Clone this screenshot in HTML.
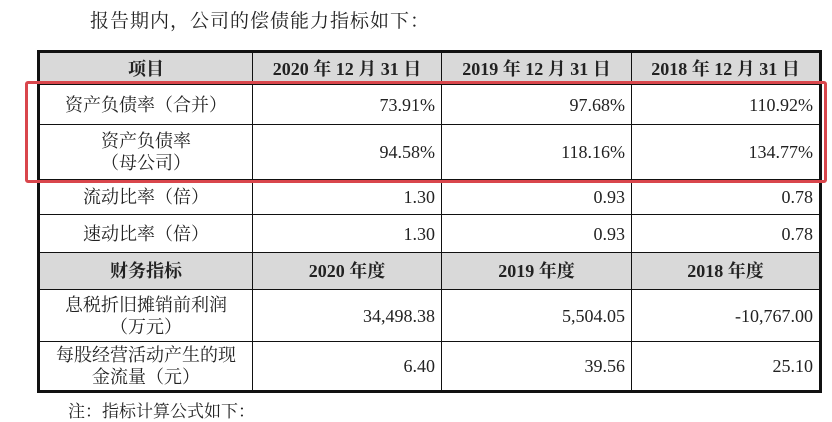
<!DOCTYPE html>
<html><head><meta charset="utf-8">
<style>
body{margin:0;width:832px;height:407px;background:#fff;overflow:hidden;position:relative;font-family:"Liberation Serif","Noto Serif CJK SC","Noto Sans CJK SC",serif;color:#222}
.t{position:absolute;font-size:19px;left:90px;top:6px;letter-spacing:1px}
.tbl{position:absolute;left:37px;top:50px;width:785px;height:343px;border:3px solid #111;box-sizing:border-box}
.c{position:absolute;box-sizing:border-box;border-right:1px solid #111;border-bottom:1px solid #111;display:flex;align-items:center;font-size:18px;line-height:22px}
.h{background:#d9d9d9;font-weight:bold;justify-content:center}
.l{justify-content:center;text-align:center}
.r{justify-content:flex-end;padding-right:6px}
.red{position:absolute;left:25px;top:81px;width:802px;height:102px;border:3px solid #d9464c;border-radius:3px;box-sizing:border-box}
.n{position:absolute;left:68px;top:397px;font-size:17px}
</style></head><body>
<div class="t">报告期内，公司的偿债能力指标如下：</div>
<div class="tbl"></div>
<div id="cells"></div>
<div class="red"></div>
<div class="n">注：指标计算公式如下：</div>
<script>
const xs=[37,253,442,632,822];
const ys=[50,85,125,180,215,253,290,342,393];
const rows=[
 ["h","项目","2020 年 12 月 31 日","2019 年 12 月 31 日","2018 年 12 月 31 日"],
 ["","资产负债率（合并）","73.91%","97.68%","110.92%"],
 ["","资产负债率<br>（母公司）","94.58%","118.16%","134.77%"],
 ["","流动比率（倍）","1.30","0.93","0.78"],
 ["","速动比率（倍）","1.30","0.93","0.78"],
 ["h","财务指标","2020 年度","2019 年度","2018 年度"],
 ["","息税折旧摊销前利润<br>（万元）","34,498.38","5,504.05","-10,767.00"],
 ["","每股经营活动产生的现<br>金流量（元）","6.40","39.56","25.10"]
];
const box=document.getElementById('cells');
rows.forEach((r,i)=>{
 for(let j=0;j<4;j++){
  const d=document.createElement('div');
  
  
  d.className='c '+(r[0]==='h'?'h':(j===0?'l':'r'));
  const x0=xs[j]+(j===0?3:0), x1=xs[j+1]-(j===3?3:0);
  const y0=ys[i]+(i===0?3:0), y1=ys[i+1]-(i===rows.length-1?3:0);
  d.style.left=x0+'px';d.style.top=y0+'px';
  d.style.width=(x1-x0)+'px';d.style.height=(y1-y0)+'px';
  if(j===3)d.style.borderRight='none';
  if(i===rows.length-1)d.style.borderBottom='none';
  d.innerHTML=r[j+1];
  box.appendChild(d);
 }
});
</script>
</body></html>
